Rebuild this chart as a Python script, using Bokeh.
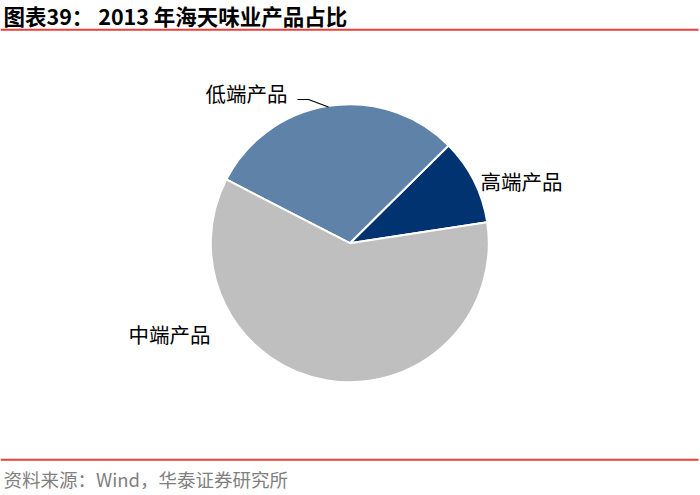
import math
from bokeh.plotting import figure
from bokeh.models import Range1d, ColumnDataSource
from bokeh.core.properties import value
from bokeh.embed import file_html
from bokeh.resources import INLINE

# ---- data ----
categories = ["高端产品", "低端产品", "中端产品"]
shares = [10.0, 30.0, 60.0]
colors = ["#00336F", "#5F82A9", "#BFBFBF"]
title_text = "图表39：    2013 年海天味业产品占比"
source_text = "资料来源：Wind，华泰证券研究所"

W, H = 700, 495
def X(px):
    return px
def Y(py):
    return H - py

p = figure(width=W, height=H, output_backend="svg", toolbar_location=None,
           x_range=Range1d(0, W), y_range=Range1d(0, H), min_border=0)
p.axis.visible = False
p.grid.visible = False
p.outline_line_color = None
p.background_fill_color = "white"

# pie
cx, cy, r = X(349.3), Y(242.7), 139
start_deg = 8.7
total = sum(shares)
starts, ends = [], []
acc = start_deg
for s in shares:
    starts.append(math.radians(acc))
    acc += s / total * 360.0
    ends.append(math.radians(acc))
src = ColumnDataSource(dict(cat=categories, val=shares, start=starts, end=ends, color=colors))
p.wedge(x=cx, y=cy, radius=r, start_angle="start", end_angle="end",
        fill_color="color", line_color="white", line_width=2, source=src)

# labels
lab_font = value("Noto Sans CJK SC")
label_pos = {"高端产品": (480, 180), "低端产品": (205, 92), "中端产品": (128, 333)}
lx = [X(label_pos[c][0]) for c in categories]
ly = [Y(label_pos[c][1]) for c in categories]
p.text(x=lx, y=ly, text=categories, text_font=lab_font, text_font_size="20.5px",
       text_color="#000000", text_baseline="middle", text_align="left")

# leader line for 低端产品
p.line(x=[X(297), X(308), X(328)], y=[Y(99), Y(99), Y(106.5)], line_color="black", line_width=1.2)

# title & source
p.text(x=[X(3)], y=[Y(15)], text=[title_text], text_font=value("Noto Sans CJK SC"),
       text_font_size="21.5px", text_font_style="bold", text_color="#000000",
       text_baseline="middle", text_align="left")
p.text(x=[X(3)], y=[Y(478)], text=[source_text], text_font=value("Noto Sans CJK SC"),
       text_font_size="18.5px", text_color="#7F7F7F", text_baseline="middle", text_align="left")

# red rules
p.line(x=[X(0), X(698)], y=[Y(29.3), Y(29.3)], line_color="#E8413C", line_width=2)
p.line(x=[X(0), X(698)], y=[Y(459.3), Y(459.3)], line_color="#E8413C", line_width=2)

open("out.html", "w").write(file_html(p, INLINE))
